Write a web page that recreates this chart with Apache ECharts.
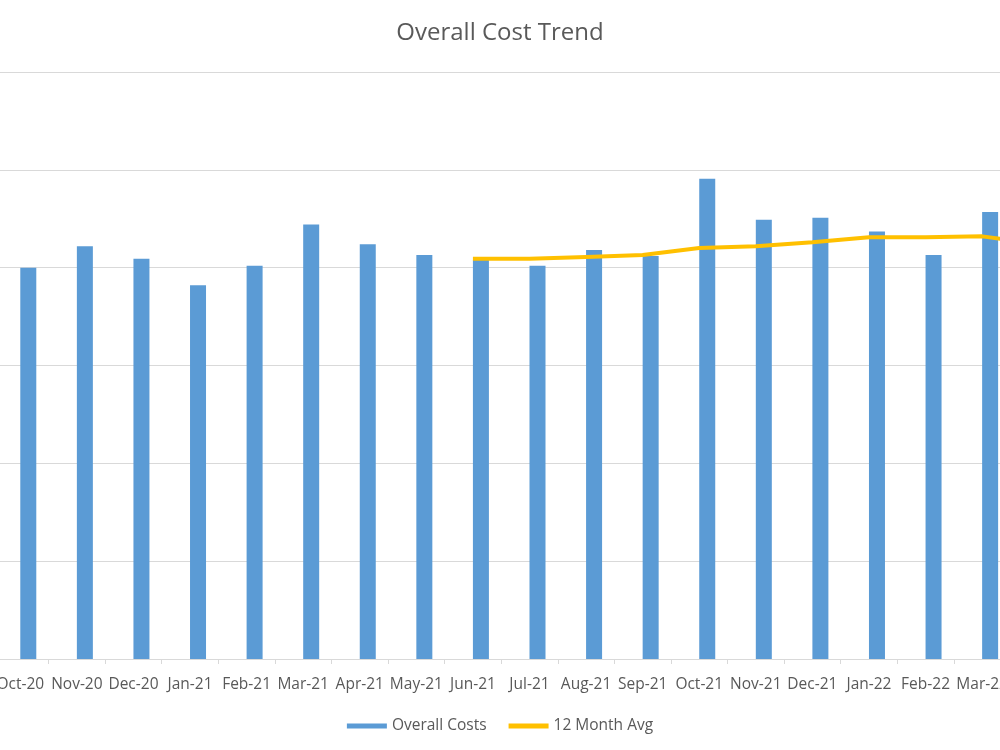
<!DOCTYPE html>
<html>
<head>
<meta charset="utf-8">
<script src="https://cdn.jsdelivr.net/npm/echarts@6/dist/echarts.min.js"></script>
<style>html,body{margin:0;padding:0;background:#fff}#c{width:1000px;height:750px}</style>
</head>
<body>
<div id="c"></div>
<script>
const categories = ['Oct-20','Nov-20','Dec-20','Jan-21','Feb-21','Mar-21','Apr-21','May-21','Jun-21','Jul-21','Aug-21','Sep-21','Oct-21','Nov-21','Dec-21','Jan-22','Feb-22','Mar-22','Apr-22'];
const overallCosts = [40.0,42.2,40.9,38.2,40.2,44.4,42.4,41.3,40.8,40.2,41.8,41.2,49.1,44.9,45.1,43.7,41.3,45.7,null];
const avg12 = [null,null,null,null,null,null,null,null,40.9,40.9,41.1,41.3,42.0,42.2,42.6,43.1,43.1,43.2,42.4];
const placeholder = [];

const chart = echarts.init(document.getElementById('c'), null, {renderer:'canvas'});
const font = 'Open Sans';
chart.setOption({
  animation:false,
  backgroundColor:'#ffffff',
  title:{text:'Overall Cost Trend',left:'center',top:16,textStyle:{fontFamily:font,fontSize:24,fontWeight:'normal',color:'#595959'}},
  legend:{data:[{name:'Overall Costs',icon:'rect'},{name:'12 Month Avg',icon:'rect'}],bottom:11,left:'center',itemGap:22,itemWidth:40,itemHeight:5,
    textStyle:{fontFamily:font,fontSize:15.5,color:'#595959'}},
  grid:{left:-8,width:1075,top:72,bottom:91,containLabel:false,outerBoundsMode:'none'},
  xAxis:{type:'category',data:categories,
    axisLine:{lineStyle:{color:'#d9d9d9',width:1}},
    axisTick:{show:true,length:5,lineStyle:{color:'#d9d9d9'},alignWithLabel:false},
    axisLabel:{interval:0,margin:18,fontFamily:font,fontSize:15.5,color:'#595959'}},
  yAxis:{type:'value',min:0,max:60,interval:10,axisLabel:{show:false},axisLine:{show:false},axisTick:{show:false},
    splitLine:{lineStyle:{color:'#d9d9d9',width:1}}},
  series:[
    {name:'_gap',type:'bar',data:placeholder,barWidth:16,barGap:'0%',itemStyle:{color:'transparent'},silent:true},
    {name:'Overall Costs',type:'bar',data:overallCosts,barWidth:16,barGap:'0%',itemStyle:{color:'#5b9bd5'}},
    {name:'12 Month Avg',type:'line',data:avg12,symbol:'none',lineStyle:{color:'#ffc000',width:4},itemStyle:{color:'#ffc000'},connectNulls:false}
  ]
});
</script>
</body>
</html>
